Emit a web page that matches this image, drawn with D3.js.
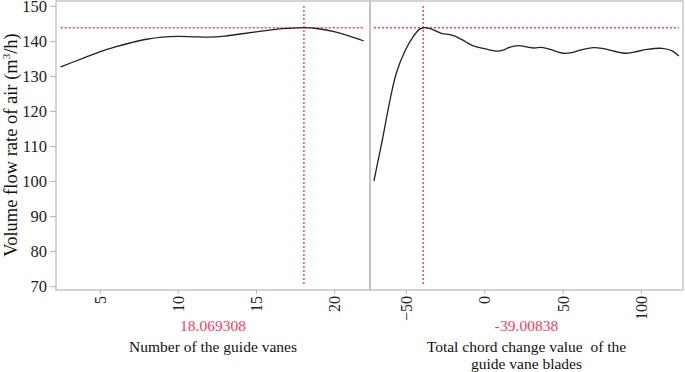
<!DOCTYPE html>
<html><head><meta charset="utf-8">
<script src="https://cdn.jsdelivr.net/npm/d3@7"></script>
<style>body{margin:0;background:#fff}svg{display:block}svg text{font-family:"Liberation Serif","Times New Roman","DejaVu Serif",serif}</style>
</head><body>
<svg id="c" width="685" height="372"></svg>
<script>
// ---- data ----
const yTicks = [70, 80, 90, 100, 110, 120, 130, 140, 150];
const leftTicks = [5, 10, 15, 20];
const rightTicks = [-50, 0, 50, 100];
const leftX = [2.5, 4, 5, 6, 7, 8, 9, 10, 11, 12, 13, 14, 15, 16, 17, 18, 19, 20, 21, 21.9];
const leftY = [132.6, 135.2, 136.9, 138.3, 139.5, 140.5, 141.1, 141.3, 141.2, 141.1, 141.4, 142.0, 142.6, 143.2, 143.6, 143.8, 143.5, 142.7, 141.4, 140.0];
const rightX = [-70.5, -65, -60.4, -56.2, -50.8, -45.5, -41.2, -38, -35, -27.3, -22, -17.7, -12, -7, 0, 8, 12.2, 16, 21.8, 31.4, 36.8, 42.1, 50.6, 56, 61.3, 69.9, 75.3, 83.8, 90.2, 95.5, 104.1, 113.7, 120.1, 124.4];
const rightY = [100, 112, 122.7, 130.8, 137, 141.2, 143.4, 143.8, 143.6, 142.2, 141.8, 141.2, 139.8, 138.6, 137.8, 137.1, 137.4, 138.2, 138.7, 138.0, 138.2, 137.6, 136.5, 136.7, 137.4, 138.1, 137.9, 137.0, 136.5, 136.8, 137.6, 137.9, 137.2, 135.7];
const optLeft = 18.069308, optRight = -39.00838, optY = 143.8;
const optLeftLabel = "18.069308", optRightLabel = "-39.00838";
const leftTitle = ["Number of the guide vanes"];
const rightTitle = ["Total chord change value  of the", "guide vane blades"];
const yTitle = "Volume flow rate of air (m";

// ---- layout ----
const svg = d3.select("#c");
const frameTop = 1, frameBottom = 290;
const y = d3.scaleLinear().domain([70, 150]).range([286, 6]);
const panels = [
  {x0: 56, x1: 370, dom: [2.2, 22.3], ticks: leftTicks, xs: leftX, ys: leftY, opt: optLeft, lab: optLeftLabel, title: leftTitle},
  {x0: 370, x1: 683, dom: [-73, 127], ticks: rightTicks, xs: rightX, ys: rightY, opt: optRight, lab: optRightLabel, title: rightTitle}
];
const grey = "#b8b8b8", red = "#ff3a5c", font = "Liberation Serif, Times New Roman, serif";

panels.forEach(p => {
  const x = d3.scaleLinear().domain(p.dom).range([p.x0, p.x1]);
  svg.append("rect").attr("x", p.x0).attr("y", frameTop).attr("width", p.x1 - p.x0).attr("height", frameBottom - frameTop)
    .attr("fill", "none").attr("stroke", grey).attr("stroke-width", 1.2);
  const ax = svg.append("g").attr("transform", `translate(0,${frameBottom})`)
    .call(d3.axisBottom(x).tickValues(p.ticks).tickSize(4).tickPadding(3).tickFormat(d3.format("d")));
  ax.select(".domain").remove();
  ax.selectAll("line").attr("stroke", grey);
  ax.selectAll("text").attr("transform", "rotate(-90)").attr("text-anchor", "end")
    .attr("x", -6).attr("y", 0).attr("dy", "0.35em")
    .attr("font-family", font).attr("font-size", 16).attr("fill", "#222");
  const xsMin = d3.min(p.xs), xsMax = d3.max(p.xs);
  svg.append("line").attr("x1", x(xsMin)).attr("x2", x(xsMax)).attr("y1", y(optY)).attr("y2", y(optY))
    .attr("stroke", red).attr("stroke-width", 1.4).attr("stroke-dasharray", "2,2");
  svg.append("line").attr("x1", x(p.opt)).attr("x2", x(p.opt)).attr("y1", y(150)).attr("y2", y(70))
    .attr("stroke", red).attr("stroke-width", 1.4).attr("stroke-dasharray", "2,2");
  const pts = p.xs.map((v, i) => [v, p.ys[i]]);
  svg.append("path").datum(pts)
    .attr("d", d3.line().x(d => x(d[0])).y(d => y(d[1])).curve(d3.curveCatmullRom.alpha(0.5)))
    .attr("fill", "none").attr("stroke", "#222").attr("stroke-width", 1.3);
  const cx = (p.x0 + p.x1) / 2;
  svg.append("text").attr("x", cx).attr("y", 331).attr("text-anchor", "middle")
    .attr("font-family", font).attr("font-size", 15.5).attr("fill", red).text(p.lab);
  p.title.forEach((t, i) => {
    svg.append("text").attr("x", cx).attr("y", 352 + i * 17).attr("text-anchor", "middle")
      .attr("font-family", font).attr("font-size", 15.5).attr("fill", "#111")
      .style("white-space", "pre").text(t);
  });
});

const ay = svg.append("g").attr("transform", "translate(56,0)")
  .call(d3.axisLeft(y).tickValues(yTicks).tickSize(6).tickPadding(3));
ay.select(".domain").remove();
ay.selectAll("line").attr("stroke", grey);
ay.selectAll("text").attr("font-family", font).attr("font-size", 16.5).attr("fill", "#222");

const yt = svg.append("text").attr("transform", "translate(17,145) rotate(-90)").attr("text-anchor", "middle")
  .attr("font-family", font).attr("font-size", 18.5).attr("fill", "#111");
yt.append("tspan").text(yTitle);
yt.append("tspan").attr("dy", -7).attr("font-size", 11).text("3");
yt.append("tspan").attr("dy", 7).text("/h)");
</script>
</body></html>
